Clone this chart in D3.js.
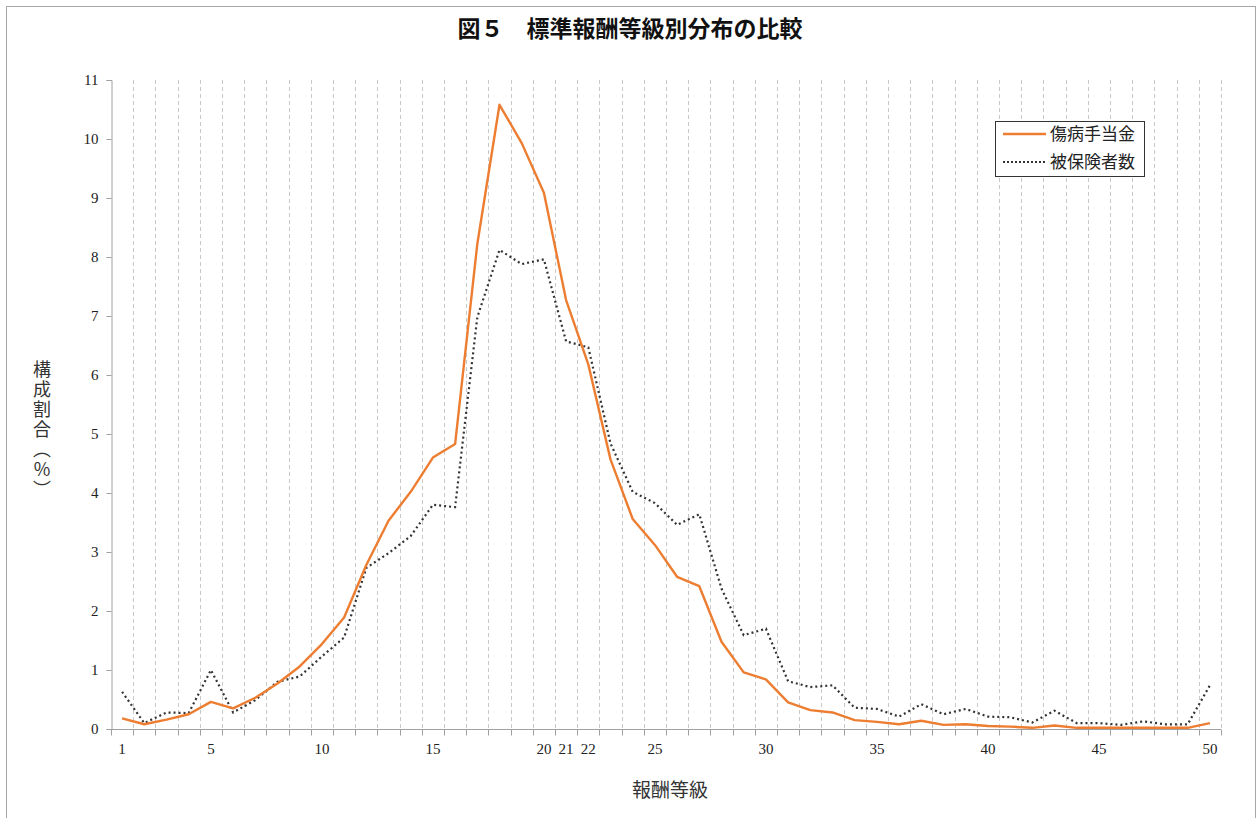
<!DOCTYPE html>
<html><head><meta charset="utf-8">
<script src="https://cdn.jsdelivr.net/npm/d3@7"></script>
<style>
html,body{margin:0;padding:0;background:#fff;}
svg{display:block;}
</style></head>
<body>
<svg id="chart" width="1257" height="818"></svg>
<script>
const grades = d3.range(1, 51);
const benefitShare = [0.18,0.08,0.16,0.25,0.46,0.35,0.53,0.77,1.06,1.44,
  1.89,2.78,3.53,4.02,4.60,4.83,8.22,10.58,9.93,9.09,
  7.27,6.18,4.57,3.56,3.12,2.58,2.42,1.48,0.96,0.84,
  0.45,0.32,0.28,0.15,0.12,0.08,0.14,0.07,0.08,0.05,
  0.04,0.02,0.06,0.02,0.02,0.02,0.02,0.02,0.02,0.10];
const insuredShare = [0.63,0.10,0.28,0.27,1.00,0.28,0.49,0.80,0.89,1.23,
  1.55,2.73,2.98,3.27,3.80,3.76,6.98,8.12,7.88,7.96,
  6.57,6.47,4.84,4.02,3.83,3.46,3.64,2.38,1.59,1.70,
  0.81,0.71,0.74,0.36,0.34,0.21,0.42,0.25,0.34,0.21,
  0.20,0.11,0.31,0.10,0.10,0.07,0.13,0.08,0.08,0.74];
const xTickLabels = [1,5,10,15,20,21,22,25,30,35,40,45,50];
const yTicks = d3.range(0, 12);
const seriesNames = ["傷病手当金", "被保険者数"];
const titleText = "図５　標準報酬等級別分布の比較";
const xTitle = "報酬等級";
const yTitle = "構成割合（%）";

(function () {
const svg = d3.select("#chart");
const pLeft = 111, pRight = 1221, pTop = 80, pBottom = 729;

// outer frame
svg.append("rect").attr("x", 6.5).attr("y", 6.5).attr("width", 1249).attr("height", 830)
  .attr("fill", "none").attr("stroke", "#a6a6a6").attr("stroke-width", 1);

const x = d3.scaleBand().domain(grades).range([pLeft, pRight]).padding(0);
const y = d3.scaleLinear().domain([0, 11]).range([pBottom, pTop]);

// vertical dashed gridlines at category boundaries
const bounds = grades.map(g => x(g) + x.bandwidth());
svg.append("g").selectAll("line").data(bounds).join("line")
  .attr("x1", d => Math.round(d) + 0.5).attr("x2", d => Math.round(d) + 0.5)
  .attr("y1", pTop).attr("y2", pBottom)
  .attr("stroke", "#c8c8c8").attr("stroke-width", 1).attr("stroke-dasharray", "4,3");

// y axis
const yAxis = d3.axisLeft(y).tickValues(yTicks).tickSize(5).tickPadding(8).tickFormat(d3.format("d"));
const gy = svg.append("g").attr("transform", `translate(${pLeft + 0.5},0)`).call(yAxis);
gy.select(".domain").attr("stroke", "#a0a0a0");
gy.selectAll(".tick line").attr("stroke", "#a0a0a0");
gy.selectAll("text").attr("font-family", "'Liberation Serif', serif").attr("font-size", 15).attr("fill", "#222");

// x axis: ticks at boundaries
const gx = svg.append("g").attr("transform", `translate(0,${pBottom + 0.5})`);
gx.append("line").attr("x1", pLeft).attr("x2", pRight).attr("stroke", "#a0a0a0");
gx.selectAll("line.tk").data([pLeft].concat(bounds)).join("line").attr("class", "tk")
  .attr("x1", d => Math.round(d) + 0.5).attr("x2", d => Math.round(d) + 0.5)
  .attr("y1", 0).attr("y2", 6).attr("stroke", "#a0a0a0");
gx.selectAll("text").data(xTickLabels).join("text")
  .attr("x", d => x(d) + x.bandwidth() / 2).attr("y", 24)
  .attr("text-anchor", "middle")
  .attr("font-family", "'Liberation Serif', serif").attr("font-size", 15).attr("fill", "#222")
  .text(d => d);

// lines
const line = d3.line().x((d, i) => x(grades[i]) + x.bandwidth() / 2).y(d => y(d));
svg.append("path").datum(insuredShare).attr("d", line).attr("fill", "none")
  .attr("stroke", "#333").attr("stroke-width", 2.2).attr("stroke-dasharray", "2,3");
svg.append("path").datum(benefitShare).attr("d", line).attr("fill", "none")
  .attr("stroke", "#ed7d31").attr("stroke-width", 2.4).attr("stroke-linejoin", "round");

// title
svg.append("text").attr("x", 630).attr("y", 37).attr("text-anchor", "middle")
  .attr("font-family", "'Noto Sans CJK JP', sans-serif").attr("font-weight", "bold")
  .attr("font-size", 23).attr("fill", "#111").text(titleText);

// axis titles
svg.append("text").attr("x", 670).attr("y", 797).attr("text-anchor", "middle")
  .attr("font-family", "'Noto Sans CJK JP', sans-serif").attr("font-size", 19).attr("fill", "#333")
  .text(xTitle);
svg.append("text").attr("x", 42).attr("y", 360)
  .attr("font-family", "'Noto Sans CJK JP', sans-serif").attr("font-size", 18).attr("fill", "#333")
  .style("writing-mode", "vertical-rl").style("text-orientation", "upright")
  .style("letter-spacing", "2px")
  .text(yTitle);

// legend
const lg = svg.append("g").attr("transform", "translate(995,121)");
lg.append("rect").attr("x", 0.5).attr("y", 0.5).attr("width", 149).attr("height", 55)
  .attr("fill", "#fff").attr("stroke", "#333").attr("stroke-width", 1);
const legendItems = [
  {name: seriesNames[0], color: "#ed7d31", dash: null, w: 2.4},
  {name: seriesNames[1], color: "#333", dash: "2,2", w: 2}
];
legendItems.forEach((d, i) => {
  const yy = 13 + i * 28;
  lg.append("line").attr("x1", 8).attr("x2", 51).attr("y1", yy).attr("y2", yy)
    .attr("stroke", d.color).attr("stroke-width", d.w).attr("stroke-dasharray", d.dash);
  lg.append("text").attr("x", 55).attr("y", yy + 6)
    .attr("font-family", "'Noto Sans CJK JP', sans-serif").attr("font-size", 17).attr("fill", "#222")
    .text(d.name);
});
})();
</script>
</body></html>
